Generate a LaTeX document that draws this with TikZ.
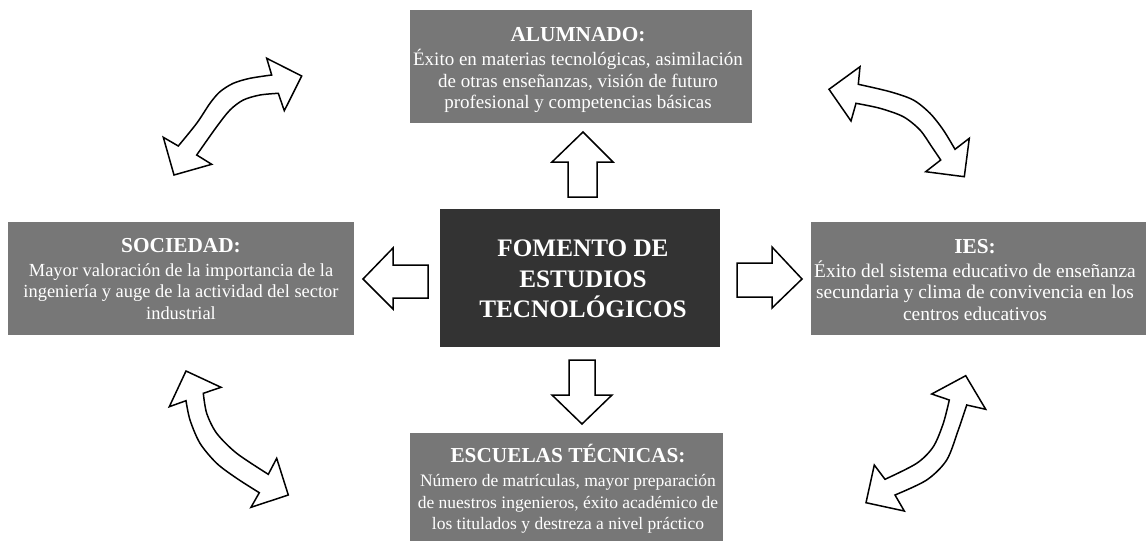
\documentclass[tikz,border=0pt]{standalone}
\usepackage{fontspec}
\setmainfont{Liberation Serif}
\definecolor{boxgray}{HTML}{777777}
\definecolor{boxdark}{HTML}{333333}
\tikzset{
  graybox/.style={fill=boxgray, draw=none, inner sep=0pt},
  darkbox/.style={fill=boxdark, draw=none, inner sep=0pt},
  boxtext/.style={text=white, inner sep=0pt, align=center, font=\fontsize{#1}{21.5}\selectfont},
  centertext/.style={text=white, inner sep=0pt, align=center, font=\fontsize{25.2}{30.5}\selectfont\bfseries},
  blockarrow/.style={draw=black, fill=white, line width=1.5pt, line join=miter},
  curvarrow/.style={draw=black, fill=white, line width=1.5pt, line join=miter},
}
\newcommand{\boxtitle}[1]{{\fontsize{21.3}{21.5}\selectfont\bfseries #1}}
\begin{document}
\begin{tikzpicture}[x=1pt,y=-1pt]
\useasboundingbox (0,0) rectangle (1146,541);
% boxes
\node[graybox, minimum width=342pt, minimum height=113pt] (alum) at (581,66.5) {};
\node[graybox, minimum width=346pt, minimum height=113pt] (soc) at (181,278.5) {};
\node[graybox, minimum width=335pt, minimum height=113pt] (ies) at (978.5,278.5) {};
\node[graybox, minimum width=313pt, minimum height=108pt] (esc) at (566.5,487) {};
\node[darkbox, minimum width=280pt, minimum height=138pt] (cen) at (580,278) {};
% texts
\node[boxtext=19] (alumtxt) at (578,70) {\boxtitle{ALUMNADO:}\\[2.5pt]Éxito en materias tecnológicas, asimilación\\de otras enseñanzas, visión de futuro\\profesional y competencias básicas};
\node[boxtext=18.45] (soctxt) at (181,279) {\boxtitle{SOCIEDAD:}\\[2.5pt]Mayor valoración de la importancia de la\\ingeniería y auge de la actividad del sector\\industrial};
\node[boxtext=19.4] (iestxt) at (975,280) {\boxtitle{IES:}\\[2.5pt]Éxito del sistema educativo de enseñanza\\secundaria y clima de convivencia en los\\centros educativos};
\node[boxtext=17.5] (esctxt) at (568,489) {\boxtitle{ESCUELAS TÉCNICAS:}\\[2.5pt]Número de matrículas, mayor preparación\\de nuestros ingenieros, éxito académico de\\los titulados y destreza a nivel práctico};
\node[centertext] (centxt) at (583,279) {FOMENTO DE\\ESTUDIOS\\TECNOLÓGICOS};
% straight block arrows
\draw[blockarrow] (568,197) -- (568,162) -- (552,162) -- (583,132) -- (613,162) -- (597,162) -- (597,197) -- cycle;
\draw[blockarrow] (569,360) -- (595,360) -- (595,395) -- (612,395) -- (582,424) -- (552,395) -- (569,395) -- cycle;
\draw[blockarrow] (428,265) -- (393,265) -- (393,248) -- (363,279) -- (393,309) -- (393,298) -- (428,298) -- cycle;
\draw[blockarrow] (737,263) -- (772,263) -- (772,247) -- (802,279) -- (772,308) -- (772,297) -- (737,297) -- cycle;
% curved double arrows
% top-left
\draw[curvarrow] (271.7,75) -- (266.7,58.3) -- (301.7,76) -- (284.3,110.7) -- (278.3,93.3)
  -- plot[smooth] coordinates {(278.3,93.3) (260,95) (243.3,100) (230,110) (216.7,126.7) (196.7,155)}
  -- (211.7,164.3) -- (174,175) -- (163.3,137.3) -- (178.3,146)
  -- plot[smooth] coordinates {(178.3,146) (196.7,123.3) (210,103.3) (220,91.7) (233.3,83.3) (250,78.3) (271.7,75)}
  -- cycle;
% top-right
\draw[curvarrow] (858.3,84.3) -- (860,66.7) -- (829,89.3) -- (851,121) -- (856,103.3)
  -- plot[smooth] coordinates {(856,103.3) (880,108.3) (903.3,116.7) (920,130) (931.7,146.7) (940.7,160)}
  -- (925.7,171.7) -- (964.3,176.7) -- (969.3,138.3) -- (955,149.3)
  -- plot[smooth] coordinates {(955,149.3) (943.3,130) (930,113.3) (913.3,100) (890,91.7) (858.3,84.3)}
  -- cycle;
% bottom-left
\draw[curvarrow] (186,400.7) -- (169.3,406.7) -- (186,371) -- (221,387.3) -- (203.3,393.3)
  -- plot[smooth] coordinates {(203.3,393.3) (206.7,413.3) (216.7,433.3) (236.7,453.3) (268.3,474.3)}
  -- (276.7,458.3) -- (288.3,495) -- (251,507.3) -- (259.3,492.7)
  -- plot[smooth] coordinates {(259.3,492.7) (236.7,478.3) (216.7,463.3) (200,443.3) (190,420) (186,400.7)}
  -- cycle;
% bottom-right
\draw[curvarrow] (949.3,400) -- (931.7,394) -- (965.7,375.7) -- (985.7,409.3) -- (966.7,405)
  -- plot[smooth] coordinates {(966.7,405) (958.3,430) (946.7,460) (926.7,480) (895,495)}
  -- (904.3,511) -- (866,502.7) -- (874.3,465) -- (885,479.3)
  -- plot[smooth] coordinates {(885,479.3) (916.7,463.3) (933.3,446.7) (943.3,423.3) (949.3,400)}
  -- cycle;
\end{tikzpicture}
\end{document}
